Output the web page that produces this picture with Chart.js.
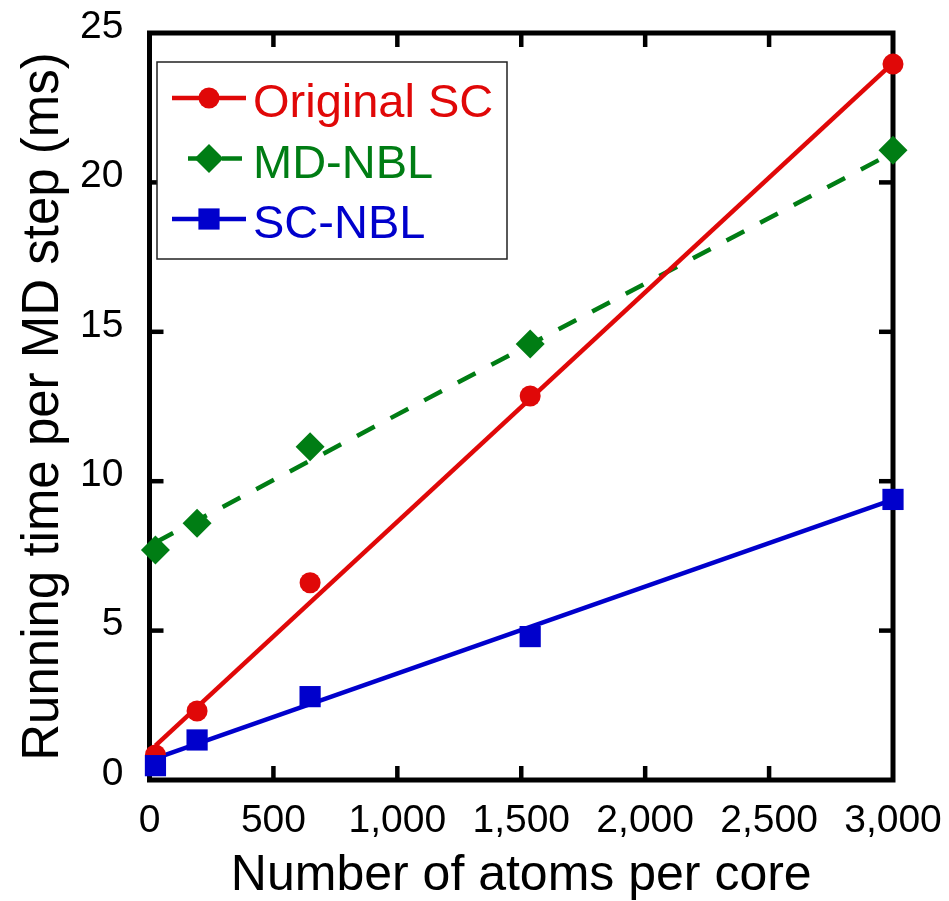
<!DOCTYPE html>
<html>
<head>
    <title>Running time per MD step</title>
    <script src="https://cdn.jsdelivr.net/npm/chart.js"></script>
    <style>
        body { margin: 0; background: #fff; }
        canvas { display: block; }
    </style>
</head>
<body>
    <canvas id="timingChart" width="949" height="901"></canvas>
    <script>
        const atoms = [24, 192, 648, 1536, 3000];
        const originalSC = [0.84, 2.31, 6.6, 12.85, 23.96];
        const mdNBL = [7.7, 8.59, 11.15, 14.59, 21.08];
        const scNBL = [0.48, 1.34, 2.79, 4.8, 9.39];

        // fitted lines at both ends
        const fitAtoms = [24, 3000];
        const fitOriginalSC = [1.15, 24.0];
        const fitMdNBL = [7.95, 21.0];
        const fitScNBL = [0.72, 9.38];

        const xTicks = [0, 500, 1000, 1500, 2000, 2500, 3000];
        const yTicks = [0, 5, 10, 15, 20, 25];

        const RED = '#e00808', GREEN = '#007d14', BLUE = '#0000cc';
        const FONT = 'Arial, "Liberation Sans", sans-serif';

        const toPoints = (xs, ys) => xs.map((x, i) => ({ x: x, y: ys[i] }));

        const series = [
            { label: 'Original SC', color: RED, pointStyle: 'circle', radius: 10.5, dash: [], values: originalSC, fit: fitOriginalSC },
            { label: 'MD-NBL', color: GREEN, pointStyle: 'rectRot', radius: 14.5, dash: [20, 18], values: mdNBL, fit: fitMdNBL },
            { label: 'SC-NBL', color: BLUE, pointStyle: 'rect', radius: 15, dash: [], values: scNBL, fit: fitScNBL }
        ];

        const datasets = [];
        series.forEach((s, i) => {
            datasets.push({
                label: s.label + ' fit',
                data: toPoints(fitAtoms, s.fit),
                borderColor: s.color,
                borderWidth: 4.5,
                borderDash: s.dash,
                pointRadius: 0,
                showLine: true,
                order: 10 + i
            });
            datasets.push({
                label: s.label,
                data: toPoints(atoms, s.values),
                showLine: false,
                pointStyle: s.pointStyle,
                pointRadius: s.radius,
                pointBackgroundColor: s.color,
                pointBorderWidth: 0,
                clip: false,
                order: 3 - i
            });
        });

        function line(ctx, x1, y1, x2, y2) {
            ctx.beginPath();
            ctx.moveTo(x1, y1);
            ctx.lineTo(x2, y2);
            ctx.stroke();
        }

        // box with inside ticks on all four sides
        const frame = {
            id: 'frame',
            beforeDatasetsDraw(chart) {
                const { ctx, chartArea: a, scales: { x, y } } = chart;
                ctx.save();
                ctx.strokeStyle = '#000';
                ctx.lineWidth = 4.5;
                xTicks.slice(1, -1).forEach(v => {
                    const px = x.getPixelForValue(v);
                    line(ctx, px, a.bottom, px, a.bottom - 14);
                    line(ctx, px, a.top, px, a.top + 14);
                });
                yTicks.slice(1, -1).forEach(v => {
                    const py = y.getPixelForValue(v);
                    line(ctx, a.left, py, a.left + 14, py);
                    line(ctx, a.right, py, a.right - 14, py);
                });
                ctx.lineWidth = 5;
                ctx.strokeRect(a.left, a.top, a.right - a.left, a.bottom - a.top);
                ctx.restore();
            }
        };

        const boxLegend = {
            id: 'boxLegend',
            afterDraw(chart) {
                const ctx = chart.ctx;
                ctx.save();
                ctx.fillStyle = '#fff';
                ctx.fillRect(157, 62, 350, 197);
                ctx.strokeStyle = '#222';
                ctx.lineWidth = 1.5;
                ctx.strokeRect(157, 62, 350, 197);
                series.forEach((s, i) => {
                    const yc = 98 + i * 60.5;
                    ctx.strokeStyle = s.color;
                    ctx.lineWidth = 4.5;
                    if (s.dash.length) {
                        ctx.setLineDash([20, 14]);
                        line(ctx, 188, yc, 242, yc);
                        ctx.setLineDash([]);
                    } else {
                        line(ctx, 172, yc, 246, yc);
                    }
                    ctx.fillStyle = s.color;
                    Chart.helpers.drawPoint(ctx, { pointStyle: s.pointStyle, radius: s.radius, rotation: 0, borderWidth: 0 }, 209, yc);
                    ctx.fillStyle = s.color;
                    ctx.font = '47px ' + FONT;
                    ctx.textBaseline = 'alphabetic';
                    ctx.textAlign = 'left';
                    ctx.fillText(s.label, 253, yc + 19);
                });
                ctx.restore();
            }
        };

        new Chart(document.getElementById('timingChart'), {
            type: 'scatter',
            data: { datasets: datasets },
            plugins: [frame, boxLegend],
            options: {
                responsive: false,
                animation: false,
                layout: { padding: { top: 33, right: 56, left: 0, bottom: 0 } },
                plugins: { legend: { display: false }, tooltip: { enabled: false } },
                scales: {
                    x: {
                        type: 'linear',
                        min: 0,
                        max: 3000,
                        afterBuildTicks: s => { s.ticks = xTicks.map(v => ({ value: v })); },
                        afterFit: s => { s.height = 121; s.paddingLeft = 0; s.paddingRight = 0; },
                        grid: { display: false },
                        border: { display: false },
                        ticks: { color: '#000', font: { family: FONT, size: 39 }, padding: 10, maxRotation: 0 },
                        title: { display: true, text: 'Number of atoms per core', color: '#000', font: { family: FONT, size: 50 }, padding: { top: 0, bottom: -5 } }
                    },
                    y: {
                        type: 'linear',
                        min: 0,
                        max: 25,
                        afterBuildTicks: s => { s.ticks = yTicks.map(v => ({ value: v })); },
                        afterFit: s => { s.width = 149.5; s.paddingTop = 0; s.paddingBottom = 0; },
                        grid: { display: false },
                        border: { display: false },
                        ticks: { color: '#000', font: { family: FONT, size: 39 }, padding: 18, labelOffset: -6 },
                        title: { display: true, text: 'Running time per MD step (ms)', color: '#000', font: { family: FONT, size: 51 }, padding: { top: 13, bottom: 0 } }
                    }
                }
            }
        });
    </script>
</body>
</html>
